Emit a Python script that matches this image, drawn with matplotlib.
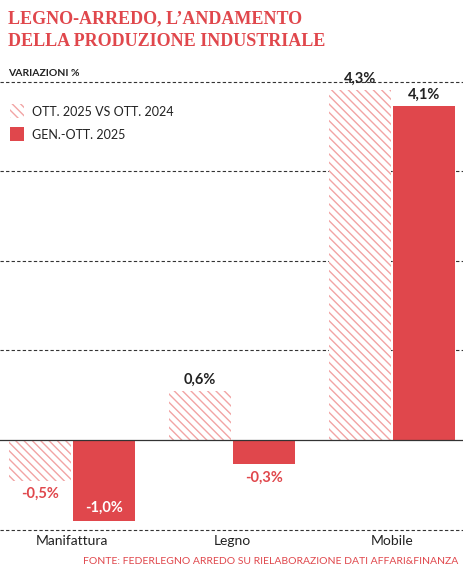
import matplotlib
matplotlib.use("Agg")
import matplotlib.pyplot as plt
from matplotlib.patches import Rectangle

categories = ["Manifattura", "Legno", "Mobile"]
ott = [-0.5, 0.6, 4.3]
genott = [-1.0, -0.3, 4.1]
ott_labels = ["-0,5%", "0,6%", "4,3%"]
gen_labels = ["-1,0%", "-0,3%", "4,1%"]
grid_levels = [-1.1, 1.1, 2.2, 3.3, 4.4]

RED = "#e0474c"
HATCH = "#f2a4a4"
plt.rcParams['font.family'] = ['Lato', 'DejaVu Sans']
plt.rcParams['hatch.linewidth'] = 1.0

fig = plt.figure(figsize=(4.64, 5.70), dpi=100)
W, H = 464, 570
ax = fig.add_axes([0, 30 / H, 1, 480 / H])
ppu = 81.4
ax.set_ylim(-100 / ppu, 380 / ppu)
ax.set_xlim(0, W)
ax.axis("off")

for g in grid_levels:
    ax.axhline(g, color="#333333", lw=0.8, ls=(0, (3, 2)), zorder=0)
ax.axhline(0, color="#333333", lw=0.9, zorder=3)

centers = [72, 232, 392]
bw = 62
for c, v1, v2, l1, l2 in zip(centers, ott, genott, ott_labels, gen_labels):
    ax.bar(c - bw / 2 - 1, v1, width=bw, color="white", edgecolor=HATCH,
           hatch="\\\\\\\\", linewidth=0, zorder=2)
    ax.bar(c + bw / 2 + 1, v2, width=bw, color=RED, zorder=2)
    for x, v, l in [(c - bw / 2 - 1, v1, l1), (c + bw / 2 + 1, v2, l2)]:
        if v >= 0:
            ax.text(x, v + 0.05, l, ha="center", va="bottom", fontsize=10.5,
                    fontweight="bold", color="#222222", zorder=4)
        elif v <= -0.8:
            ax.text(x, v + 0.08, l, ha="center", va="bottom", fontsize=10.5,
                    fontweight="bold", color="white", zorder=4)
        else:
            ax.text(x, v - 0.08, l, ha="center", va="top", fontsize=10.5,
                    fontweight="bold", color=RED, zorder=4)

for c, name in zip(centers, categories):
    fig.text(c / W, 1 - 541 / H, name, ha="center", va="center", fontsize=10, color="#222222")

# legend
ax.add_patch(Rectangle((10, (440 - 118) / ppu), 14, 14 / ppu, facecolor="white",
                       edgecolor=HATCH, hatch="\\\\\\\\", linewidth=0, zorder=3))
ax.add_patch(Rectangle((10, (440 - 141) / ppu), 14, 14 / ppu, facecolor=RED, zorder=3))
fig.text(32 / W, 1 - 112 / H, "OTT. 2025 VS OTT. 2024", fontsize=9, va="center", color="#222222")
fig.text(32 / W, 1 - 135 / H, "GEN.-OTT. 2025", fontsize=9, va="center", color="#222222")

fig.text(8 / W, 1 - 19 / H, "LEGNO-ARREDO, L’ANDAMENTO", fontsize=13, fontweight="bold",
         family="Liberation Serif", color=RED, va="center")
fig.text(8 / W, 1 - 42 / H, "DELLA PRODUZIONE INDUSTRIALE", fontsize=13, fontweight="bold",
         family="Liberation Serif", color=RED, va="center")
fig.text(8 / W, 1 - 73 / H, "VARIAZIONI %", fontsize=7.5, fontweight="bold", color="#222222", va="center")
fig.text(458 / W, 1 - 561 / H, "FONTE: FEDERLEGNO ARREDO SU RIELABORAZIONE DATI AFFARI&FINANZA",
         fontsize=7.5, color=RED, ha="right", va="center")

fig.savefig("out.png", dpi=100, facecolor="white")
